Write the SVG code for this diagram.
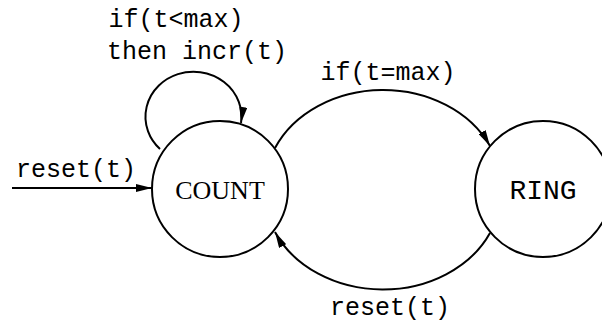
<svg xmlns="http://www.w3.org/2000/svg" width="602" height="324" viewBox="0 0 602 324">
<style>
.st{fill:#fff;stroke:#000;stroke-width:2}
.ed{fill:none;stroke:#000;stroke-width:2}
.lb{font-family:"Liberation Mono","Courier New",monospace;font-size:25px;fill:#000;text-anchor:middle}
.serif{font-family:"Liberation Serif","Times New Roman",serif;font-size:26px;fill:#000;text-anchor:middle}
.mono{font-family:"Liberation Mono","Courier New",monospace;font-size:28px;fill:#000;text-anchor:middle}
</style>
<defs>
<marker id="arr" viewBox="0 0 16 8" refX="16" refY="4" markerWidth="16" markerHeight="8" markerUnits="userSpaceOnUse" orient="auto">
<path d="M0,0 L16,4 L0,8 Z" fill="#000"/>
</marker>
</defs>
<rect width="602" height="324" fill="#fff"/>
<g id="edges">
<path class="ed" d="M160,149 A48,45 0 1 1 241,123" marker-end="url(#arr)"/>
<path class="ed" d="M275,148 A118,97 0 0 1 490,146" marker-end="url(#arr)"/>
<path class="ed" d="M490,233 A118,97 0 0 1 275,232" marker-end="url(#arr)"/>
<path class="ed" d="M12,188 L152,188" marker-end="url(#arr)"/>
<text class="lb" x="176" y="27">if(t&lt;max)</text>
<text class="lb" x="197" y="59">then incr(t)</text>
<text class="lb" x="388" y="80">if(t=max)</text>
<text class="lb" x="390" y="315">reset(t)</text>
<text class="lb" x="76" y="177">reset(t)</text>
</g>
<g id="COUNT">
<circle class="st" cx="220" cy="189" r="68"/>
<text class="serif" x="220" y="199">COUNT</text>
</g>
<g id="RING">
<circle class="st" cx="543" cy="189" r="68"/>
<text class="mono" x="543" y="199">RING</text>
</g>
</svg>
